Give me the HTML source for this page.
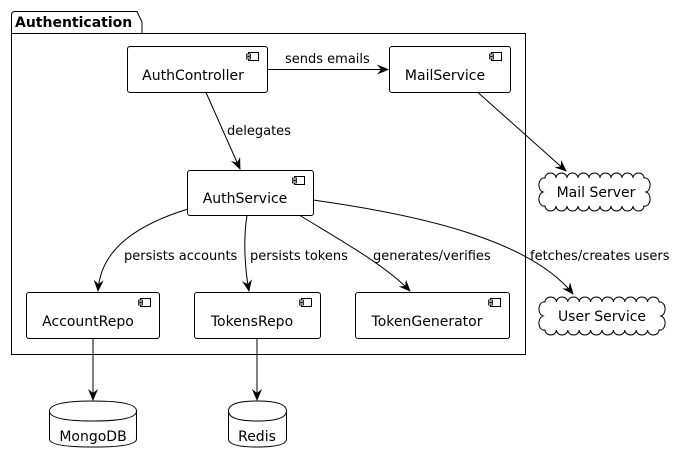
<!DOCTYPE html>
<html><head><meta charset="utf-8"><style>
html,body{margin:0;padding:0;background:#fff;}
svg{display:block;font-family:"DejaVu Sans","Liberation Sans",sans-serif;}
</style></head><body>
<svg width="676" height="463" viewBox="0 0 676 463" xmlns="http://www.w3.org/2000/svg">
<defs>
<marker id="a" viewBox="0 0 12 10" refX="11" refY="5" markerWidth="12" markerHeight="10" markerUnits="userSpaceOnUse" orient="auto">
<path d="M0,0 L12,5 L0,10 L4,5 Z" fill="#000"/>
</marker>
<g id="ic"><rect x="0" y="0" width="10" height="8" fill="#fff" stroke="#000" stroke-width="1"/><rect x="-2" y="1.5" width="4" height="2" fill="#fff" stroke="#000" stroke-width="0.8"/><rect x="-2" y="4.5" width="4" height="2" fill="#fff" stroke="#000" stroke-width="0.8"/></g>
</defs>
<g fill="none" stroke="#000" stroke-width="1">
<path d="M11.5,33.5 V15 Q11.5,11.5 15,11.5 H137 L142,22 L142,33.5 H525.5 V354.5 H11.5 Z"/>
<line x1="11.5" y1="33.5" x2="142" y2="33.5"/>
</g>
<text x="15" y="27" font-size="14" font-weight="bold">Authentication</text>
<g fill="#fff" stroke="#000" stroke-width="1">
<rect x="127.5" y="46.5" width="140" height="46" rx="2.5"/>
<rect x="389.5" y="46.5" width="121" height="46" rx="2.5"/>
<rect x="187.5" y="170.5" width="126" height="45" rx="2.5"/>
<rect x="26.5" y="292.5" width="133" height="46" rx="2.5"/>
<rect x="194.5" y="292.5" width="126" height="46" rx="2.5"/>
<rect x="355.5" y="292.5" width="154" height="46" rx="2.5"/>
</g>
<use href="#ic" x="248.5" y="52.5"/>
<use href="#ic" x="491.5" y="52.5"/>
<use href="#ic" x="294.5" y="176.5"/>
<use href="#ic" x="140.5" y="298.5"/>
<use href="#ic" x="301.5" y="298.5"/>
<use href="#ic" x="490.5" y="298.5"/>
<g font-size="14" text-anchor="middle">
<text x="193" y="80">AuthController</text>
<text x="445" y="80">MailService</text>
<text x="245" y="203">AuthService</text>
<text x="88" y="326">AccountRepo</text>
<text x="252" y="326">TokensRepo</text>
<text x="427" y="326">TokenGenerator</text>
</g>
<g fill="none" stroke="#000" stroke-width="1" marker-end="url(#a)">
<line x1="267.5" y1="69.5" x2="388" y2="69.5"/>
<line x1="206" y1="92.5" x2="240" y2="169"/>
<path d="M478,92.5 L566,171"/>
<path d="M188,209 C120,230 100,260 98,291"/>
<path d="M247,215.5 C243,240 245,270 249,291"/>
<path d="M300,215.5 C340,240 385,265 410,291"/>
<path d="M313,200 C420,215 530,240 573,294"/>
<line x1="93" y1="338.5" x2="93" y2="400"/>
<line x1="257" y1="338.5" x2="257" y2="400"/>
</g>
<g font-size="13">
<text x="285" y="63">sends emails</text>
<text x="227" y="135">delegates</text>
<text x="124" y="260">persists accounts</text>
<text x="250" y="260">persists tokens</text>
<text x="373" y="260">generates/verifies</text>
<text x="530" y="260">fetches/creates users</text>
</g>
<g fill="#fff" stroke="#000" stroke-width="1">
<path d="M545,178 a5.5,5 0 0 1 11,0 a5.5,5 0 0 1 11,0 a5.5,5 0 0 1 11,0 a5.5,5 0 0 1 11,0 a5.5,5 0 0 1 11,0 a5.5,5 0 0 1 11,0 a5.5,5 0 0 1 11,0 a5.5,5 0 0 1 11,0 a5.5,5 0 0 1 11,0 a5,7 0 0 1 2,14 a5,7 0 0 1 -2,14 a5.5,5 0 0 1 -11,0 a5.5,5 0 0 1 -11,0 a5.5,5 0 0 1 -11,0 a5.5,5 0 0 1 -11,0 a5.5,5 0 0 1 -11,0 a5.5,5 0 0 1 -11,0 a5.5,5 0 0 1 -11,0 a5.5,5 0 0 1 -11,0 a5.5,5 0 0 1 -11,0 a5,7 0 0 1 -2,-14 a5,7 0 0 1 2,-14 Z"/>
<path d="M545,302 a5.7,5 0 0 1 11.4,0 a5.7,5 0 0 1 11.4,0 a5.7,5 0 0 1 11.4,0 a5.7,5 0 0 1 11.4,0 a5.7,5 0 0 1 11.4,0 a5.7,5 0 0 1 11.4,0 a5.7,5 0 0 1 11.4,0 a5.7,5 0 0 1 11.4,0 a5.7,5 0 0 1 11.4,0 a5.7,5 0 0 1 11.4,0 a5,7 0 0 1 2,14 a5,7 0 0 1 -2,14 a5.7,5 0 0 1 -11.4,0 a5.7,5 0 0 1 -11.4,0 a5.7,5 0 0 1 -11.4,0 a5.7,5 0 0 1 -11.4,0 a5.7,5 0 0 1 -11.4,0 a5.7,5 0 0 1 -11.4,0 a5.7,5 0 0 1 -11.4,0 a5.7,5 0 0 1 -11.4,0 a5.7,5 0 0 1 -11.4,0 a5.7,5 0 0 1 -11.4,0 a5,7 0 0 1 -2,-14 a5,7 0 0 1 2,-14 Z"/>
<path d="M49.5,411 Q49.5,401 93,401 Q136.5,401 136.5,411 V439 Q136.5,447 93,447 Q49.5,447 49.5,439 Z"/>
<path d="M49.5,411 Q49.5,421 93,421 Q136.5,421 136.5,411" fill="none"/>
<path d="M228.5,411 Q228.5,401 257,401 Q286.5,401 286.5,411 V439 Q286.5,447 257,447 Q228.5,447 228.5,439 Z"/>
<path d="M228.5,411 Q228.5,421 257,421 Q286.5,421 286.5,411" fill="none"/>
</g>
<g font-size="14" text-anchor="middle">
<text x="596" y="197">Mail Server</text>
<text x="602" y="321">User Service</text>
<text x="93" y="441">MongoDB</text>
<text x="257" y="441">Redis</text>
</g>
</svg>
</body></html>
